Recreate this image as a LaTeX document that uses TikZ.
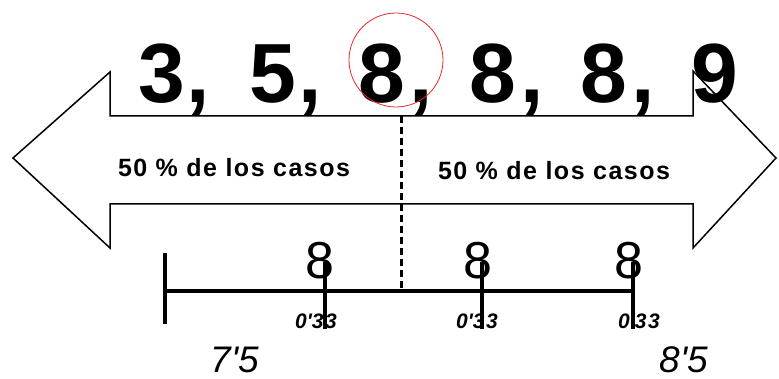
\documentclass[tikz,border=0pt]{standalone}
\usepackage{fontspec}
\setmainfont{Liberation Sans}
\usepackage{tikz}
\usetikzlibrary{positioning, calc}
\definecolor{myred}{RGB}{235,40,40}
\definecolor{mydark}{RGB}{0,0,0}
\tikzset{
  bignum/.style={font=\fontsize{84}{84}\selectfont\bfseries,
    inner sep=0pt, anchor=base, color=mydark},
  casos/.style={font=\fontsize{25}{25}\selectfont\bfseries
    \addfontfeatures{LetterSpace=6}, inner sep=0pt, anchor=base},
  ocho/.style={font=\fontsize{52}{52}\selectfont, inner sep=0pt, anchor=base},
  peso/.style={font=\fontsize{21}{21}\selectfont\bfseries\itshape
    \addfontfeatures{LetterSpace=8}, inner sep=0pt, anchor=base},
  extremo/.style={font=\fontsize{37}{37}\selectfont\itshape
    \addfontfeatures{LetterSpace=5}, inner sep=0pt, anchor=base},
  contorno/.style={line width=1.5pt, line join=miter, color=mydark},
  eje/.style={line width=4pt, color=mydark},
  mediana/.style={line width=3pt, dash pattern=on 7pt off 4pt, color=mydark}
}

\begin{document}
\begin{tikzpicture}[x=1pt, y=-1pt]
\fill[white] (0,0) rectangle (779,379);
\useasboundingbox (0,0) rectangle (779,379);
% double arrow
\draw[contorno] (401,116) -- (110,116) -- (110,72) -- (13,158)
  -- (110,248) -- (110,204) -- (401,204);
\draw[contorno] (401,116) -- (693,116) -- (693,71) -- (776,158)
  -- (693,248) -- (693,204) -- (401,204);
% data
\foreach \d/\x [count=\i] in {3/162,5/273,8/382,8/493,8/604,9/715}
  \node[bignum] (d\i) at (\x,103) {\d};
\foreach \x [count=\i] in {198,310,421,532,643}
  \node[bignum] (c\i) at (\x,103) {,};
\node[draw=myred, circle, minimum size=94pt, inner sep=0pt,
  line width=0.8pt] (med) at (396,60) {};
% halves
\node[casos] (izq) at (234,177) {50 \% de los casos};
\node[casos] (der) at (554,180) {50 \% de los casos};
% number line
\coordinate (mtop) at (401,116);
\coordinate (mbot) at (401,291);
\coordinate (ini) at (165,291);
\coordinate (fin) at (633,291);
\draw[mediana] (mtop) -- (mbot);
\draw[eje] (ini) -- (fin);
\draw[eje] (165,253) -- (165,324);
\foreach \x/\o/\p [count=\i] in {325/320/316,482/478/477,633/629/639} {
  \node[ocho] (o\i) at (\o,279) {8};
  \node[peso] (p\i) at (\p,329) {0\textquotesingle33};
  \draw[eje] (\x,262) -- (\x,329);
}
\node[extremo] (e1) at (235,372) {7\textquotesingle5};
\node[extremo] (e2) at (684,372) {8\textquotesingle5};
\end{tikzpicture}
\end{document}
